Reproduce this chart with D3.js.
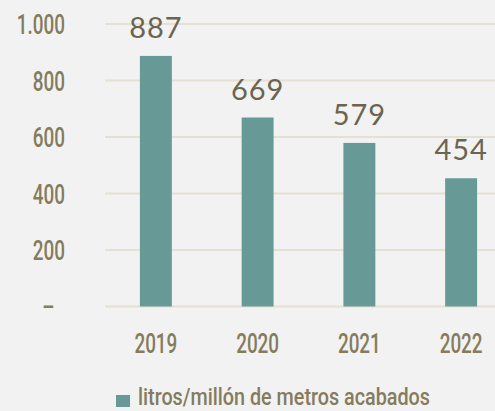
<!DOCTYPE html>
<html>
<head>
<meta charset="utf-8">
<script src="https://cdn.jsdelivr.net/npm/d3@7"></script>
<style>
  body { margin: 0; background: #f2f2f2; }
  svg { display: block; }
  .cond { font-family: Roboto, 'DejaVu Sans', sans-serif; font-weight: 500; }
</style>
</head>
<body>
<div class="chart"></div>
<script>
// data
var years = ["2019", "2020", "2021", "2022"];
var values = [887, 669, 579, 454];
var yTicks = [0, 200, 400, 600, 800, 1000];
var yTickLabels = ["–", "200", "400", "600", "800", "1.000"];
var seriesName = "litros/millón de metros acabados";

var width = 495, height = 411;
var squeeze = "scale(0.7,1)";

var svg = d3.select(".chart").append("svg")
  .attr("width", width).attr("height", height);

svg.append("rect").attr("width", width).attr("height", height).attr("fill", "#f2f2f2");

var y = d3.scaleLinear().domain([0, 1000]).range([306.5, 24]);
var x = d3.scaleBand().domain(years).range([105, 512]).paddingInner(0.686).paddingOuter(0.343);

// gridlines
svg.append("g").selectAll("line")
  .data(yTicks)
  .enter().append("line")
  .attr("x1", 105).attr("x2", width)
  .attr("y1", function(d) { return y(d); })
  .attr("y2", function(d) { return y(d); })
  .attr("stroke", "#e5e0d4")
  .attr("stroke-width", 2);

// y axis labels
var yAxis = d3.axisLeft(y)
  .tickValues(yTicks)
  .tickFormat(function(d, i) { return yTickLabels[i]; })
  .tickSize(0).tickPadding(0);

var yAxisGroup = svg.append("g").attr("transform", "translate(65,0)").call(yAxis);
yAxisGroup.select(".domain").remove();
yAxisGroup.selectAll("text")
  .attr("class", "cond")
  .attr("fill", "#857b5d")
  .attr("font-family", null)
  .attr("font-size", null)
  .style("font-size", "27px")
  .attr("dy", "0.36em")
  .attr("x", function(d) { return d === 0 ? -15 : 0; })
  .attr("transform", squeeze);

// bars
svg.append("g").selectAll("rect")
  .data(values)
  .enter().append("rect")
  .attr("x", function(d, i) { return x(years[i]); })
  .attr("width", x.bandwidth())
  .attr("y", function(d) { return y(d); })
  .attr("height", function(d) { return y(0) - y(d); })
  .attr("fill", "#679a97");

// value labels
svg.append("g").selectAll("text")
  .data(values)
  .enter().append("text")
  .attr("x", function(d, i) { return x(years[i]) + x.bandwidth() / 2; })
  .attr("y", function(d) { return y(d) - 18; })
  .attr("text-anchor", "middle")
  .attr("fill", "#6b6450")
  .style("font-family", "Lato, 'Open Sans', sans-serif")
  .style("font-size", "29px")
  .style("letter-spacing", "1px")
  .text(function(d) { return d; });

// x axis labels
var xAxis = d3.axisBottom(x).tickSize(0).tickPadding(0);
var xAxisGroup = svg.append("g").attr("transform", "translate(0,343)").call(xAxis);
xAxisGroup.select(".domain").remove();
xAxisGroup.selectAll("text")
  .attr("class", "cond")
  .attr("font-family", null)
  .attr("font-size", null)
  .attr("fill", "#857b5d")
  .attr("y", 0)
  .attr("dy", "0.36em")
  .style("font-size", "27px")
  .attr("transform", squeeze);

// legend
var legend = svg.append("g").attr("transform", "translate(116,395)");
legend.append("rect").attr("width", 14).attr("height", 12).attr("fill", "#679a97");
legend.append("g").attr("transform", "translate(22,10)")
  .append("text")
  .attr("class", "cond")
  .attr("fill", "#857b5d")
  .style("font-size", "23px")
  .attr("transform", "scale(0.86,1)")
  .text(seriesName);
</script>
</body>
</html>
